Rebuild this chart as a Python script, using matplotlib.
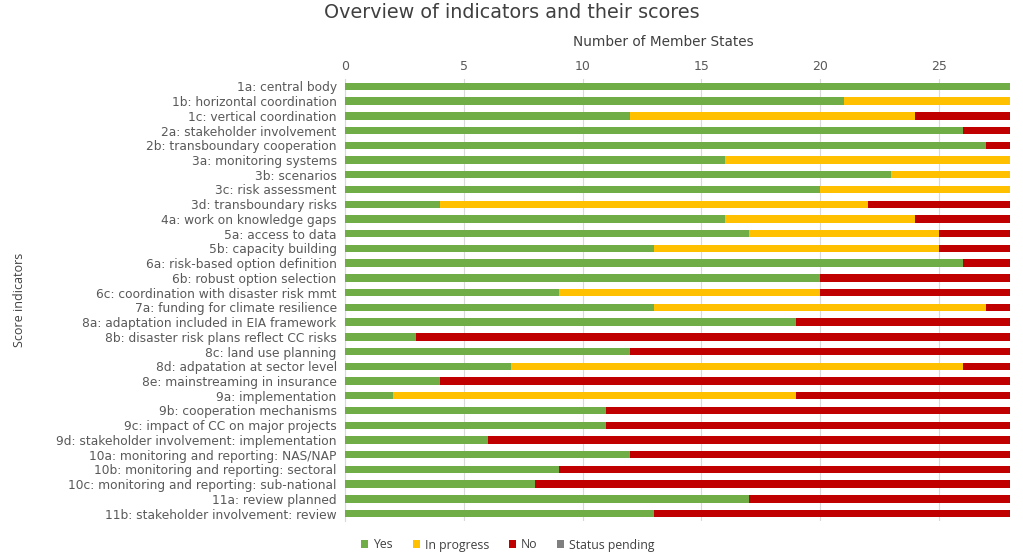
import matplotlib
matplotlib.use("Agg")
import matplotlib.pyplot as plt
import numpy as np

plt.rcParams['font.family'] = ['DejaVu Sans']

categories = [
    "1a: central body", "1b: horizontal coordination", "1c: vertical coordination",
    "2a: stakeholder involvement", "2b: transboundary cooperation",
    "3a: monitoring systems", "3b: scenarios", "3c: risk assessment",
    "3d: transboundary risks", "4a: work on knowledge gaps",
    "5a: access to data", "5b: capacity building",
    "6a: risk-based option definition", "6b: robust option selection",
    "6c: coordination with disaster risk mmt", "7a: funding for climate resilience",
    "8a: adaptation included in EIA framework", "8b: disaster risk plans reflect CC risks",
    "8c: land use planning", "8d: adpatation at sector level",
    "8e: mainstreaming in insurance", "9a: implementation",
    "9b: cooperation mechanisms", "9c: impact of CC on major projects",
    "9d: stakeholder involvement: implementation",
    "10a: monitoring and reporting: NAS/NAP", "10b: monitoring and reporting: sectoral",
    "10c: monitoring and reporting: sub-national", "11a: review planned",
    "11b: stakeholder involvement: review",
]
yes         = [28, 21, 12, 26, 27, 16, 23, 20, 4, 16, 17, 13, 26, 20, 9, 13, 19, 3, 12, 7, 4, 2, 11, 11, 6, 12, 9, 8, 17, 13]
in_progress = [0, 7, 12, 0, 0, 12, 5, 8, 18, 8, 8, 12, 0, 0, 11, 14, 0, 0, 0, 19, 0, 17, 0, 0, 0, 0, 0, 0, 0, 0]
no          = [0, 0, 4, 2, 1, 0, 0, 0, 6, 4, 3, 3, 2, 8, 8, 1, 9, 25, 16, 2, 24, 9, 17, 17, 22, 16, 19, 20, 11, 15]
pending     = [0] * 30

series = [("Yes", yes, "#70AD47"), ("In progress", in_progress, "#FFC000"),
          ("No", no, "#C00000"), ("Status pending", pending, "#7F7F7F")]

fig = plt.figure(figsize=(10.23, 5.59), dpi=100)
ax = fig.add_axes([345/1023, 1-521/559, 665/1023, (521-79)/559])

y = np.arange(len(categories))
left = np.zeros(len(categories))
for name, vals, col in series:
    v = np.array(vals, dtype=float)
    ax.barh(y, v, left=left, height=0.5, color=col, label=name, zorder=3)
    left += v

ax.set_ylim(len(categories) - 0.5, -0.5)
ax.set_xlim(0, 28)
ax.set_xticks([0, 5, 10, 15, 20, 25])
ax.set_yticks(y)
ax.set_yticklabels(categories, fontsize=8.8, color="#595959")
ax.xaxis.tick_top()
ax.xaxis.set_label_position("top")
ax.tick_params(axis="x", length=0, labelsize=9, labelcolor="#595959", pad=4)
ax.tick_params(axis="y", length=0, pad=6)
ax.set_xlabel("Number of Member States", fontsize=9.8, color="#404040", labelpad=4)
ax.xaxis.set_label_coords((663 - 345) / 665, 1 + (79 - 46) / 442)
ax.grid(axis="x", color="#D9D9D9", linewidth=0.8, zorder=0)
for s in ["top", "right", "bottom"]:
    ax.spines[s].set_visible(False)
ax.spines["left"].set_color("#D9D9D9")
ax.spines["left"].set_linewidth(0.8)

fig.text(20/1023, 1-300/559, "Score indicators", rotation=90, ha="center", va="center",
         fontsize=9, color="#404040", family="Open Sans")
fig.text(512/1023, 1-13/559, "Overview of indicators and their scores", ha="center",
         va="center", fontsize=13.8, color="#404040")

leg = fig.legend(loc="center", bbox_to_anchor=(508/1023, 1-545/559), ncol=4, frameon=False,
                 prop={"family": "Open Sans", "size": 8.8}, handlelength=0.6,
                 handleheight=0.6, columnspacing=1.6, handletextpad=0.4)
for t in leg.get_texts():
    t.set_color("#404040")

fig.savefig("out.png", dpi=100)
